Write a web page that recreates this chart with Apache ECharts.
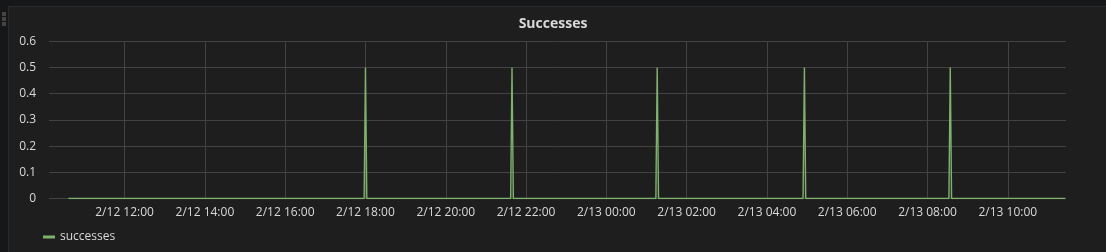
<!DOCTYPE html>
<html>
<head>
<meta charset="utf-8">
<script src="https://cdn.jsdelivr.net/npm/echarts@6/dist/echarts.min.js"></script>
<style>
  html, body { margin:0; padding:0; width:1106px; height:252px; background:#161719; overflow:hidden; }
  #panel { position:absolute; left:8px; top:6px; width:1110px; height:260px; background:#1f1e1f; border-left:1px solid #2a2a2b; border-top:1px solid #2a2a2b; }
  #chart { position:absolute; left:0; top:0; width:1106px; height:252px; }
  .dot { position:absolute; left:2px; width:4px; height:4px; background:#444; }
</style>
</head>
<body>
<div id="panel"></div>
<div class="dot" style="top:12px"></div>
<div class="dot" style="top:17px"></div>
<div class="dot" style="top:22px"></div>
<div id="chart"></div>
<script>
// ---- data ----
const title = 'Successes';
const seriesName = 'successes';
const axisStart = '2017-02-12T10:07';
const axisEnd = '2017-02-13T11:27';
const xTickTimes = [
  '2017-02-12T12:00', '2017-02-12T14:00', '2017-02-12T16:00', '2017-02-12T18:00',
  '2017-02-12T20:00', '2017-02-12T22:00', '2017-02-13T00:00', '2017-02-13T02:00',
  '2017-02-13T04:00', '2017-02-13T06:00', '2017-02-13T08:00', '2017-02-13T10:00'
];
const times = [
  '2017-02-12T10:36',
  '2017-02-12T17:58', '2017-02-12T18:00', '2017-02-12T18:02',
  '2017-02-12T21:37', '2017-02-12T21:39', '2017-02-12T21:41',
  '2017-02-13T01:14', '2017-02-13T01:16', '2017-02-13T01:18',
  '2017-02-13T04:54', '2017-02-13T04:56', '2017-02-13T04:58',
  '2017-02-13T08:32', '2017-02-13T08:34', '2017-02-13T08:36',
  '2017-02-13T11:26'
];
const values = [
  0,
  0, 0.5, 0,
  0, 0.5, 0,
  0, 0.5, 0,
  0, 0.5, 0,
  0, 0.5, 0,
  0
];
const yTicks = { min: 0, max: 0.6, interval: 0.1 };

const ts = s => new Date(s + ':00Z').getTime();
const data = times.map((t, i) => [ts(t), values[i]]);
const tickVals = xTickTimes.map(ts);
const pad = n => (n < 10 ? '0' : '') + n;

const chart = echarts.init(document.getElementById('chart'), null, { renderer: 'canvas' });
chart.setOption({
  backgroundColor: 'transparent',
  animation: false,
  textStyle: { fontFamily: 'Open Sans, Roboto, sans-serif' },
  title: {
    text: title, left: 'center', top: 12,
    textStyle: { color: '#d8d9da', fontSize: 14, fontWeight: 'bold', fontFamily: 'Open Sans, sans-serif' }
  },
  legend: {
    left: 38, top: 226,
    itemWidth: 12, itemHeight: 3, itemGap: 10,
    icon: 'rect',
    textStyle: { color: '#d8d9da', fontSize: 12 },
    data: [seriesName]
  },
  grid: { left: 49, right: 40, top: 41.3, bottom: 53.5, containLabel: false },
  xAxis: {
    type: 'value',
    min: ts(axisStart), max: ts(axisEnd),
    axisLine: { show: false },
    axisTick: { show: false, customValues: tickVals },
    splitLine: { show: true, lineStyle: { color: '#434344', width: 1 } },
    axisLabel: {
      color: '#d8d9da', fontSize: 12, margin: 8,
      customValues: tickVals,
      formatter: function (v) {
        const d = new Date(v);
        return (d.getUTCMonth() + 1) + '/' + d.getUTCDate() + ' ' + pad(d.getUTCHours()) + ':' + pad(d.getUTCMinutes());
      }
    }
  },
  yAxis: {
    type: 'value',
    min: yTicks.min, max: yTicks.max, interval: yTicks.interval,
    axisLine: { show: false },
    axisTick: { show: false },
    splitLine: { show: true, lineStyle: { color: '#434344', width: 1 } },
    axisLabel: { color: '#d8d9da', fontSize: 12, margin: 13 }
  },
  series: [{
    name: seriesName,
    type: 'line',
    data: data,
    showSymbol: false,
    symbol: 'none',
    color: '#7eb26d',
    lineStyle: { color: '#7eb26d', width: 1.4 },
    areaStyle: { color: 'rgba(126,178,109,0.12)' }
  }]
});
</script>
</body>
</html>
